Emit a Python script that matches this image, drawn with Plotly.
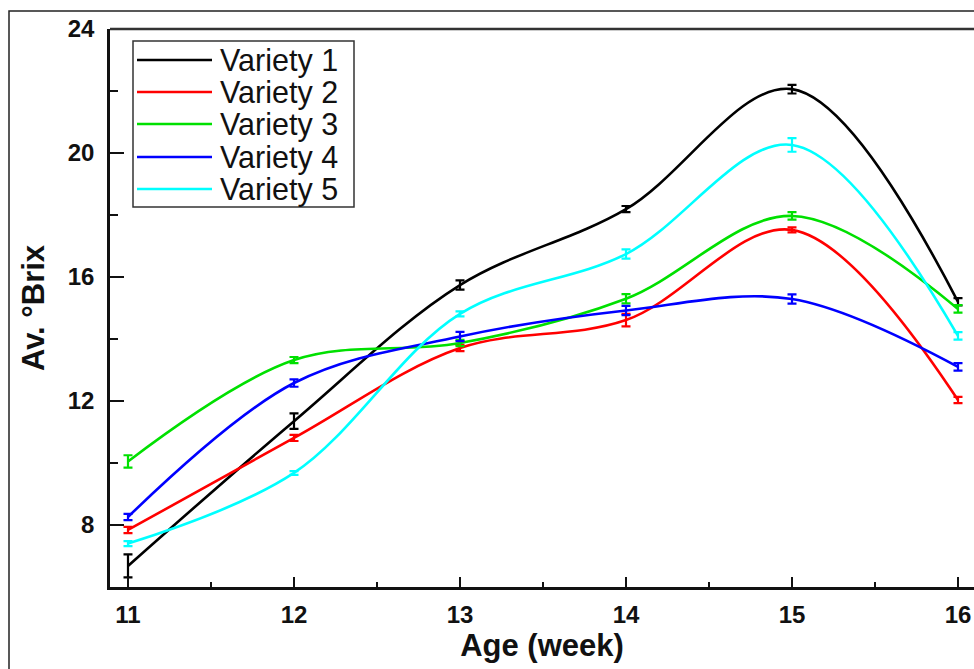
import plotly.graph_objects as go

# Harvest age in weeks
weeks = [11, 12, 13, 14, 15, 16]

# Mean degrees Brix per variety, with standard errors
variety_1 = [6.68, 11.35, 15.74, 18.19, 22.06, 15.20]
variety_2 = [7.84, 10.81, 13.71, 14.61, 17.52, 12.03]
variety_3 = [10.05, 13.32, 13.87, 15.30, 17.97, 14.97]
variety_4 = [8.26, 12.58, 14.08, 14.92, 15.29, 13.10]
variety_5 = [7.40, 9.68, 14.81, 16.74, 20.26, 14.10]

err_1 = [0.37, 0.25, 0.15, 0.10, 0.14, 0.12]
err_2 = [0.10, 0.10, 0.10, 0.20, 0.08, 0.10]
err_3 = [0.20, 0.10, 0.10, 0.15, 0.12, 0.12]
err_4 = [0.10, 0.12, 0.15, 0.15, 0.15, 0.12]
err_5 = [0.08, 0.06, 0.08, 0.15, 0.22, 0.12]

names = ["Variety 1", "Variety 2", "Variety 3", "Variety 4", "Variety 5"]
colors = ["#000000", "#ff0000", "#00e000", "#0000ff", "#00ffff"]

series = [variety_1, variety_2, variety_3, variety_4, variety_5]
errors = [err_1, err_2, err_3, err_4, err_5]

W, H = 974, 669
ML, MR, MT, MB = 110, 0, 29, 82
PW, PH = W - ML - MR, H - MT - MB

FONT = "Liberation Sans, Arial, sans-serif"

fig = go.Figure()
for name, ys, es, col in zip(names, series, errors, colors):
    fig.add_trace(go.Scatter(
        x=weeks, y=ys, name=name, mode="lines",
        line=dict(color=col, width=2.6, shape="spline", smoothing=1.0),
        error_y=dict(type="data", array=es, visible=True,
                     color=col, thickness=2.2, width=4.5),
        showlegend=False,
    ))

def px_x(p):
    return (p - ML) / PW

def px_y(p):
    return (H - MB - p) / PH

shapes = []
# outer frame around the figure
shapes.append(dict(type="rect", xref="paper", yref="paper",
                   x0=px_x(9), x1=px_x(1100), y0=px_y(900), y1=px_y(11),
                   line=dict(color="#222222", width=1.5), layer="above"))
# top border of the plotting area
shapes.append(dict(type="line", xref="paper", yref="paper",
                   x0=0, x1=1.02, y0=1, y1=1,
                   line=dict(color="#333333", width=2.5), layer="above"))

# legend box and entries
lg_x0, lg_x1, lg_y0, lg_y1 = 133, 354, 41, 207
shapes.append(dict(type="rect", xref="paper", yref="paper",
                   x0=px_x(lg_x0), x1=px_x(lg_x1), y0=px_y(lg_y1), y1=px_y(lg_y0),
                   line=dict(color="#333333", width=1.5),
                   fillcolor="white", layer="above"))
annotations = []
entry_y = [60, 92, 124, 157, 189]
for name, col, yy in zip(names, colors, entry_y):
    shapes.append(dict(type="line", xref="paper", yref="paper",
                       x0=px_x(137), x1=px_x(212), y0=px_y(yy), y1=px_y(yy),
                       line=dict(color=col, width=2.6), layer="above"))
    annotations.append(dict(xref="paper", yref="paper", x=px_x(218), y=px_y(yy),
                            text=name, showarrow=False, xanchor="left",
                            yanchor="middle",
                            font=dict(family=FONT, size=30.5, color="#111111")))

axis_common = dict(
    showline=True, linecolor="#111111", linewidth=2.5,
    ticks="inside", tickcolor="#111111", tickwidth=2,
    showgrid=False, zeroline=False,
    tickfont=dict(family=FONT, size=24, color="#111111", weight="bold"),
)

fig.update_layout(
    width=W, height=H,
    margin=dict(l=ML, r=MR, t=MT, b=MB, pad=0),
    paper_bgcolor="white", plot_bgcolor="white",
    showlegend=False,
    shapes=shapes, annotations=annotations,
    xaxis=dict(
        **axis_common,
        range=[10.8916, 16.0964],
        tickvals=weeks, ticklen=10, ticklabelstandoff=4,
        minor=dict(ticks="inside", ticklen=5, tickwidth=2, tickcolor="#111111",
                   tick0=11.5, dtick=1),
        title=dict(text="Age (week)", standoff=4,
                   font=dict(family=FONT, size=31, color="#111111", weight="bold")),
    ),
    yaxis=dict(
        **axis_common,
        range=[6, 24],
        tickvals=[8, 12, 16, 20, 24], ticklen=14, ticklabelstandoff=8,
        minor=dict(ticks="inside", ticklen=8, tickwidth=2, tickcolor="#111111",
                   tick0=6, dtick=4),
        title=dict(text="Av. °Brix", standoff=14,
                   font=dict(family=FONT, size=31, color="#111111", weight="bold")),
    ),
)

fig.write_html("out.html")
